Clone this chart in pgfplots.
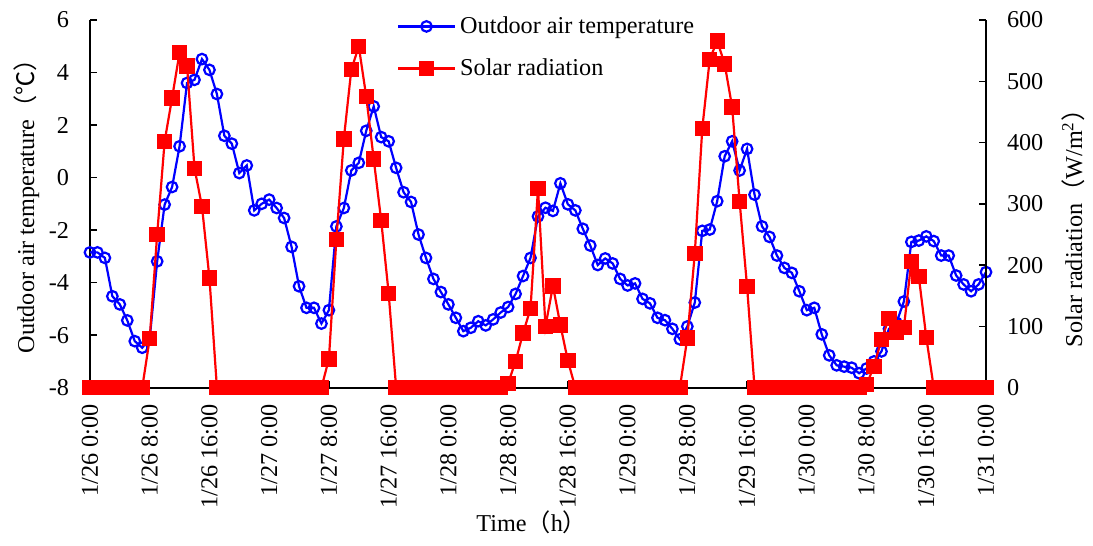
\documentclass[border=0pt]{standalone}
\usepackage{fontspec}
\setmainfont{Liberation Serif}
\newfontfamily\cjk{Noto Sans CJK SC}
\usepackage{pgfplots}
\usepackage{pgfplotstable}
\pgfplotsset{compat=1.18}

% hourly outdoor air temperature, hour 0 = 1/26 0:00
\pgfplotstableread{
h T
0 -2.85
1 -2.85
2 -3.06
3 -4.52
4 -4.83
5 -5.44
6 -6.23
7 -6.48
8 -6.14
9 -3.19
10 -1.03
11 -0.36
12 1.19
13 3.60
14 3.72
15 4.51
16 4.10
17 3.18
18 1.59
19 1.29
20 0.17
21 0.46
22 -1.25
23 -1.00
24 -0.84
25 -1.16
26 -1.54
27 -2.64
28 -4.14
29 -4.96
30 -4.96
31 -5.56
32 -5.05
33 -1.86
34 -1.16
35 0.27
36 0.56
37 1.78
38 2.71
39 1.54
40 1.38
41 0.37
42 -0.56
43 -0.93
44 -2.17
45 -3.06
46 -3.86
47 -4.36
48 -4.83
49 -5.34
50 -5.85
51 -5.72
52 -5.47
53 -5.63
54 -5.40
55 -5.14
56 -4.93
57 -4.43
58 -3.75
59 -3.06
60 -1.48
61 -1.15
62 -1.27
63 -0.22
64 -1.02
65 -1.25
66 -1.95
67 -2.59
68 -3.33
69 -3.08
70 -3.27
71 -3.86
72 -4.11
73 -4.03
74 -4.62
75 -4.79
76 -5.34
77 -5.43
78 -5.76
79 -6.16
80 -5.67
81 -4.76
82 -2.03
83 -1.98
84 -0.90
85 0.81
86 1.38
87 0.27
88 1.09
89 -0.65
90 -1.86
91 -2.26
92 -2.97
93 -3.44
94 -3.63
95 -4.33
96 -5.05
97 -4.96
98 -5.97
99 -6.77
100 -7.15
101 -7.20
102 -7.24
103 -7.45
104 -7.27
105 -7.00
106 -6.62
107 -5.76
108 -5.53
109 -4.72
110 -2.45
111 -2.40
112 -2.24
113 -2.42
114 -2.97
115 -2.97
116 -3.73
117 -4.07
118 -4.33
119 -4.07
120 -3.60
}\temptable

% hourly solar radiation (W/m2)
\pgfplotstableread{
h R
0 0
1 0
2 0
3 0
4 0
5 0
6 0
7 0
8 80
9 250
10 402
11 473
12 547
13 525
14 358
15 296
16 179
17 0
18 0
19 0
20 0
21 0
22 0
23 0
24 0
25 0
26 0
27 0
28 0
29 0
30 0
31 0
32 47
33 242
34 406
35 519
36 557
37 475
38 373
39 273
40 154
41 0
42 0
43 0
44 0
45 0
46 0
47 0
48 0
49 0
50 0
51 0
52 0
53 0
54 0
55 0
56 7
57 43
58 89
59 129
60 325
61 100
62 166
63 102
64 44
65 0
66 0
67 0
68 0
69 0
70 0
71 0
72 0
73 0
74 0
75 0
76 0
77 0
78 0
79 0
80 81
81 219
82 423
83 536
84 566
85 528
86 458
87 304
88 165
89 0
90 0
91 0
92 0
93 0
94 0
95 0
96 0
97 0
98 0
99 0
100 0
101 0
102 0
103 0
104 5
105 35
106 79
107 113
108 90
109 98
110 206
111 181
112 82
113 0
114 0
115 0
116 0
117 0
118 0
119 0
120 0
}\radtable

\pgfplotsset{
  chart/.style={
    scale only axis, width=407pt, height=167pt,
    xmin=0, xmax=120, clip=false,
    tick align=inside, major tick length=3pt,
    every tick/.style={black, line width=0.7pt},
    axis line style={line width=0.8pt},
    font=\fontsize{11}{13}\selectfont,
  },
}

\begin{document}
\begin{tikzpicture}
\begin{axis}[chart,
  axis x line*=bottom, axis y line*=left,
  ymin=-8, ymax=6,
  ytick={-8,-6,...,6}, yticklabels={-8,-6,-4,-2,0,2,4,6},
  yticklabel shift=6pt,
  xtick={0,8,...,120},
  xticklabels={1/26 0:00,1/26 8:00,1/26 16:00,1/27 0:00,1/27 8:00,1/27 16:00,1/28 0:00,1/28 8:00,1/28 16:00,1/29 0:00,1/29 8:00,1/29 16:00,1/30 0:00,1/30 8:00,1/30 16:00,1/31 0:00},
  xticklabel style={rotate=90, anchor=east},
  xticklabel shift=4pt,
  xlabel={Time{\cjk （}h{\cjk ）}},
  xlabel style={at={(axis description cs:0.493,-0.366)}, anchor=center},
  ylabel={Outdoor air temperature{\cjk （℃）}},
  ylabel style={at={(axis description cs:-0.071,0.51)}, anchor=center},
]
\addplot[blue, line width=1pt, mark=o, mark size=2.4pt] table[x=h, y=T]{\temptable};
\coordinate (A) at (rel axis cs:-0.1004,-0.4293);
\coordinate (B) at (rel axis cs:1.1194,1.0543);
\end{axis}

\begin{axis}[chart,
  axis x line=none, axis y line*=right,
  ymin=0, ymax=600,
  ytick={0,100,...,600}, yticklabels={0,100,200,300,400,500,600},
  yticklabel shift=6pt,
  ylabel={Solar radiation{\cjk （}W/m\textsuperscript{2}{\cjk ）}},
  ylabel style={at={(axis description cs:1.097,0.45)}, anchor=center},
  legend cell align=left,
  legend style={at={(axis description cs:0.335,1.035)}, anchor=north west,
    draw=none, fill=none, row sep=6pt},
  legend image code/.code={\draw[mark repeat=2, mark phase=2, #1]
    plot coordinates {(0cm,0cm) (0.45cm,0cm) (0.9cm,0cm)};},
]
\addlegendimage{blue, line width=1pt, mark=o, mark size=2.4pt}
\addlegendentry{Outdoor air temperature}
\addplot[red, line width=1pt, mark=square*, mark size=3pt] table[x=h, y=R]{\radtable};
\addlegendentry{Solar radiation}
\end{axis}
\pgfresetboundingbox
\path (A) rectangle (B);
\end{tikzpicture}
\end{document}
